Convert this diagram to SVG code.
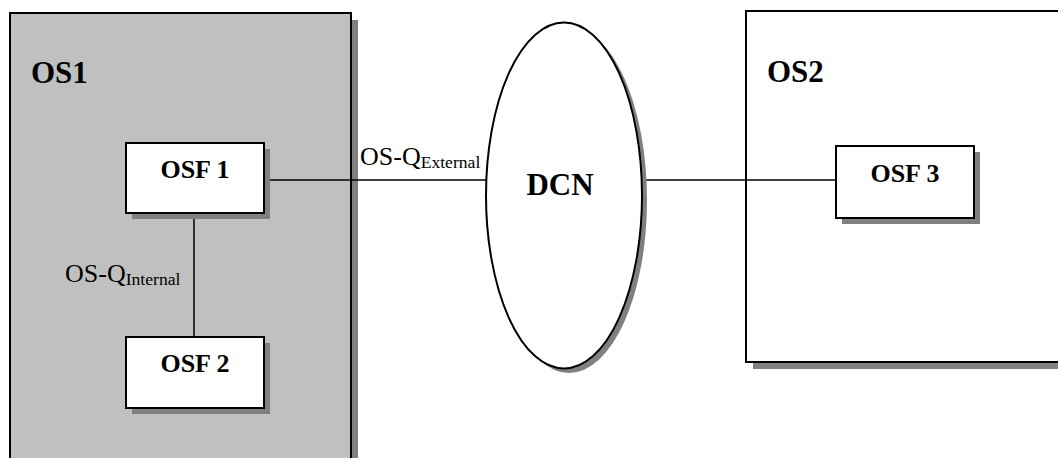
<svg xmlns="http://www.w3.org/2000/svg" width="1058" height="458" viewBox="0 0 1058 458">
<style>
.shadow{fill:#808080;stroke:none}
.box{stroke:#000;stroke-width:2}
.white{fill:#fff}
.grey{fill:#c0c0c0}
.conn{stroke:#000;stroke-width:1.5;fill:none}
text{font-family:'Liberation Serif','Times New Roman',Times,'DejaVu Serif',serif;fill:#000}
.bold{font-weight:bold}
.lbl{font-size:26px}
.sub{font-size:17.6px}
</style>
<rect width="1058" height="458" fill="#fff"/>
<g id="os1">
<rect class="shadow" x="17" y="20" width="341" height="450"/>
<rect class="box grey" x="10" y="13" width="341" height="450"/>
<text class="bold" x="31" y="83" font-size="31">OS1</text>
</g>
<g id="os2">
<rect class="shadow" x="753" y="18" width="320" height="351"/>
<rect class="box white" x="746" y="11" width="320" height="351"/>
<text class="bold" x="767" y="82" font-size="31">OS2</text>
</g>
<g id="connectors">
<line class="conn" x1="264" y1="180" x2="486" y2="180"/>
<line class="conn" x1="642" y1="180" x2="836" y2="180"/>
<line class="conn" x1="194" y1="213" x2="194" y2="337"/>
<text class="lbl" x="360" y="165">OS-Q<tspan class="sub" dy="3">External</tspan></text>
<text class="lbl" x="65" y="282">OS-Q<tspan class="sub" dy="3">Internal</tspan></text>
</g>
<g id="dcn">
<ellipse class="shadow" cx="569" cy="200" rx="78" ry="173"/>
<ellipse class="box white" cx="564" cy="195.5" rx="78" ry="173"/>
<text class="bold" x="560" y="195" font-size="31" text-anchor="middle">DCN</text>
</g>
<g id="osf1">
<rect class="shadow" x="132" y="149" width="138" height="70"/>
<rect class="box white" x="126" y="143" width="138" height="70"/>
<text class="bold" x="195" y="178" font-size="26" text-anchor="middle">OSF 1</text>
</g>
<g id="osf2">
<rect class="shadow" x="132" y="343" width="138" height="71"/>
<rect class="box white" x="126" y="337" width="138" height="71"/>
<text class="bold" x="195" y="372" font-size="26" text-anchor="middle">OSF 2</text>
</g>
<g id="osf3">
<rect class="shadow" x="842" y="152" width="138" height="72"/>
<rect class="box white" x="836" y="146" width="138" height="72"/>
<text class="bold" x="905" y="182" font-size="26" text-anchor="middle">OSF 3</text>
</g>
</svg>
